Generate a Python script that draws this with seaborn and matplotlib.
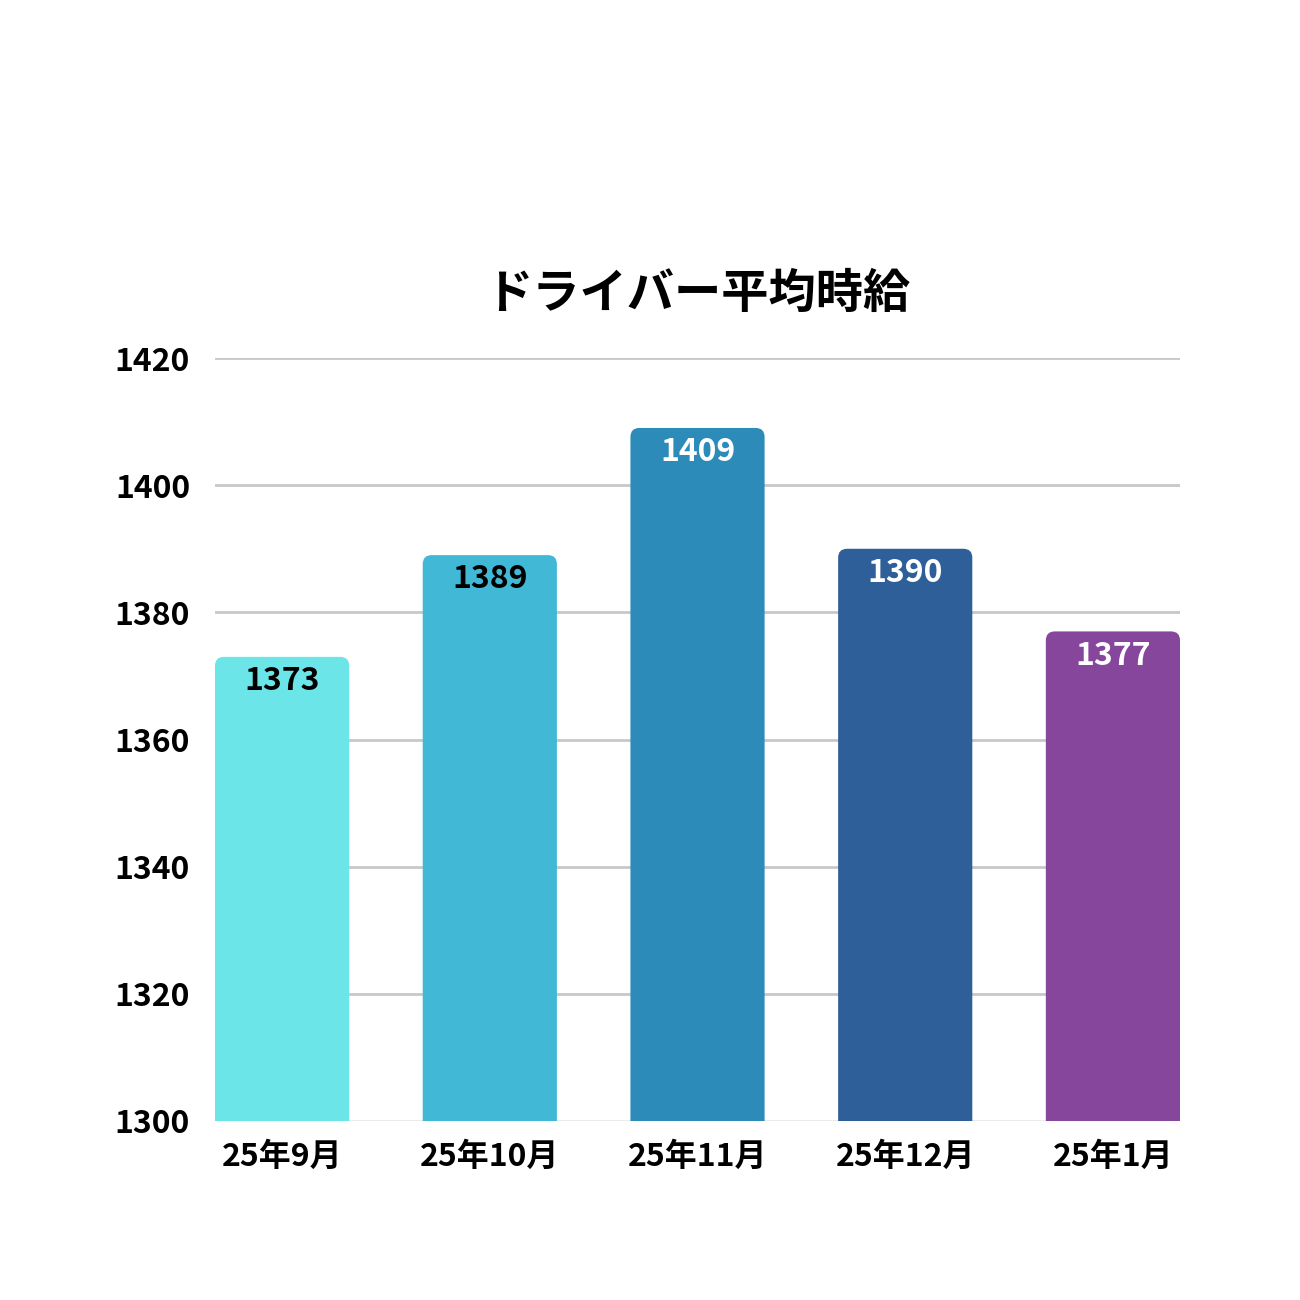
import matplotlib
matplotlib.use("Agg")
import matplotlib.pyplot as plt
from matplotlib.patches import FancyBboxPatch
import seaborn as sns
import pandas as pd

months = ["25年9月", "25年10月", "25年11月", "25年12月", "25年1月"]
wages = [1373, 1389, 1409, 1390, 1377]
colors = ["#6CE5E8", "#41B8D5", "#2D8BBA", "#2F5F98", "#86469C"]
label_colors = ["#000000", "#000000", "white", "white", "white"]
yticks = [1300, 1320, 1340, 1360, 1380, 1400, 1420]

sns.set_theme(style="white")
plt.rcParams["font.family"] = ["Noto Sans CJK JP", "DejaVu Sans"]
plt.rcParams["font.weight"] = "bold"

df = pd.DataFrame({"month": months, "wage": wages})

fig = plt.figure(figsize=(13, 13), dpi=100)
ax = fig.add_axes([0.1654, 0.1377, 0.7423, 0.5869])

sns.barplot(data=df, x="month", y="wage", hue="month", palette=colors,
            width=0.646, legend=False, ax=ax, zorder=3)

ax.set_ylim(1300, 1420)
ax.set_xlim(-0.323, 4.323)
ax.set_yticks(yticks)
ax.grid(axis="y", color="#C8C8C8", linewidth=2, zorder=0)
ax.grid(axis="x", visible=False)
for s in ax.spines.values():
    s.set_visible(False)
ax.axhline(1300, color="#EBEBEB", linewidth=1.5, zorder=1)

# rounded tops: swap each bar for a rounded box
px_per_x = 965 / 4.646
px_per_y = 763 / 120
r_px = 9
for p, c in zip(list(ax.patches), colors):
    x0, w, h = p.get_x(), p.get_width(), p.get_y() + p.get_height()
    p.set_visible(False)
    box = FancyBboxPatch((x0, 1280), w, h - 1280,
                         boxstyle=f"round,pad=0,rounding_size={r_px / px_per_x}",
                         mutation_aspect=px_per_x / px_per_y,
                         facecolor=c, edgecolor="none", zorder=3)
    ax.add_patch(box)

for i, (v, lc) in enumerate(zip(wages, label_colors)):
    ax.annotate(str(v), (i, v), xytext=(0, -6), textcoords="offset points",
                ha="center", va="top", fontsize=23, fontweight="bold",
                color=lc, zorder=4)

ax.set_xlabel("")
ax.set_ylabel("")
ax.tick_params(axis="y", length=0, pad=18, labelsize=23, labelcolor="#000000")
ax.tick_params(axis="x", length=0, pad=14, labelsize=23, labelcolor="#000000")
for t in ax.get_xticklabels() + ax.get_yticklabels():
    t.set_fontweight("bold")

ax.set_title("ドライバー平均時給", fontsize=34, fontweight="bold",
             color="#000000", pad=36)

fig.savefig("out.png", dpi=100, facecolor="white")
